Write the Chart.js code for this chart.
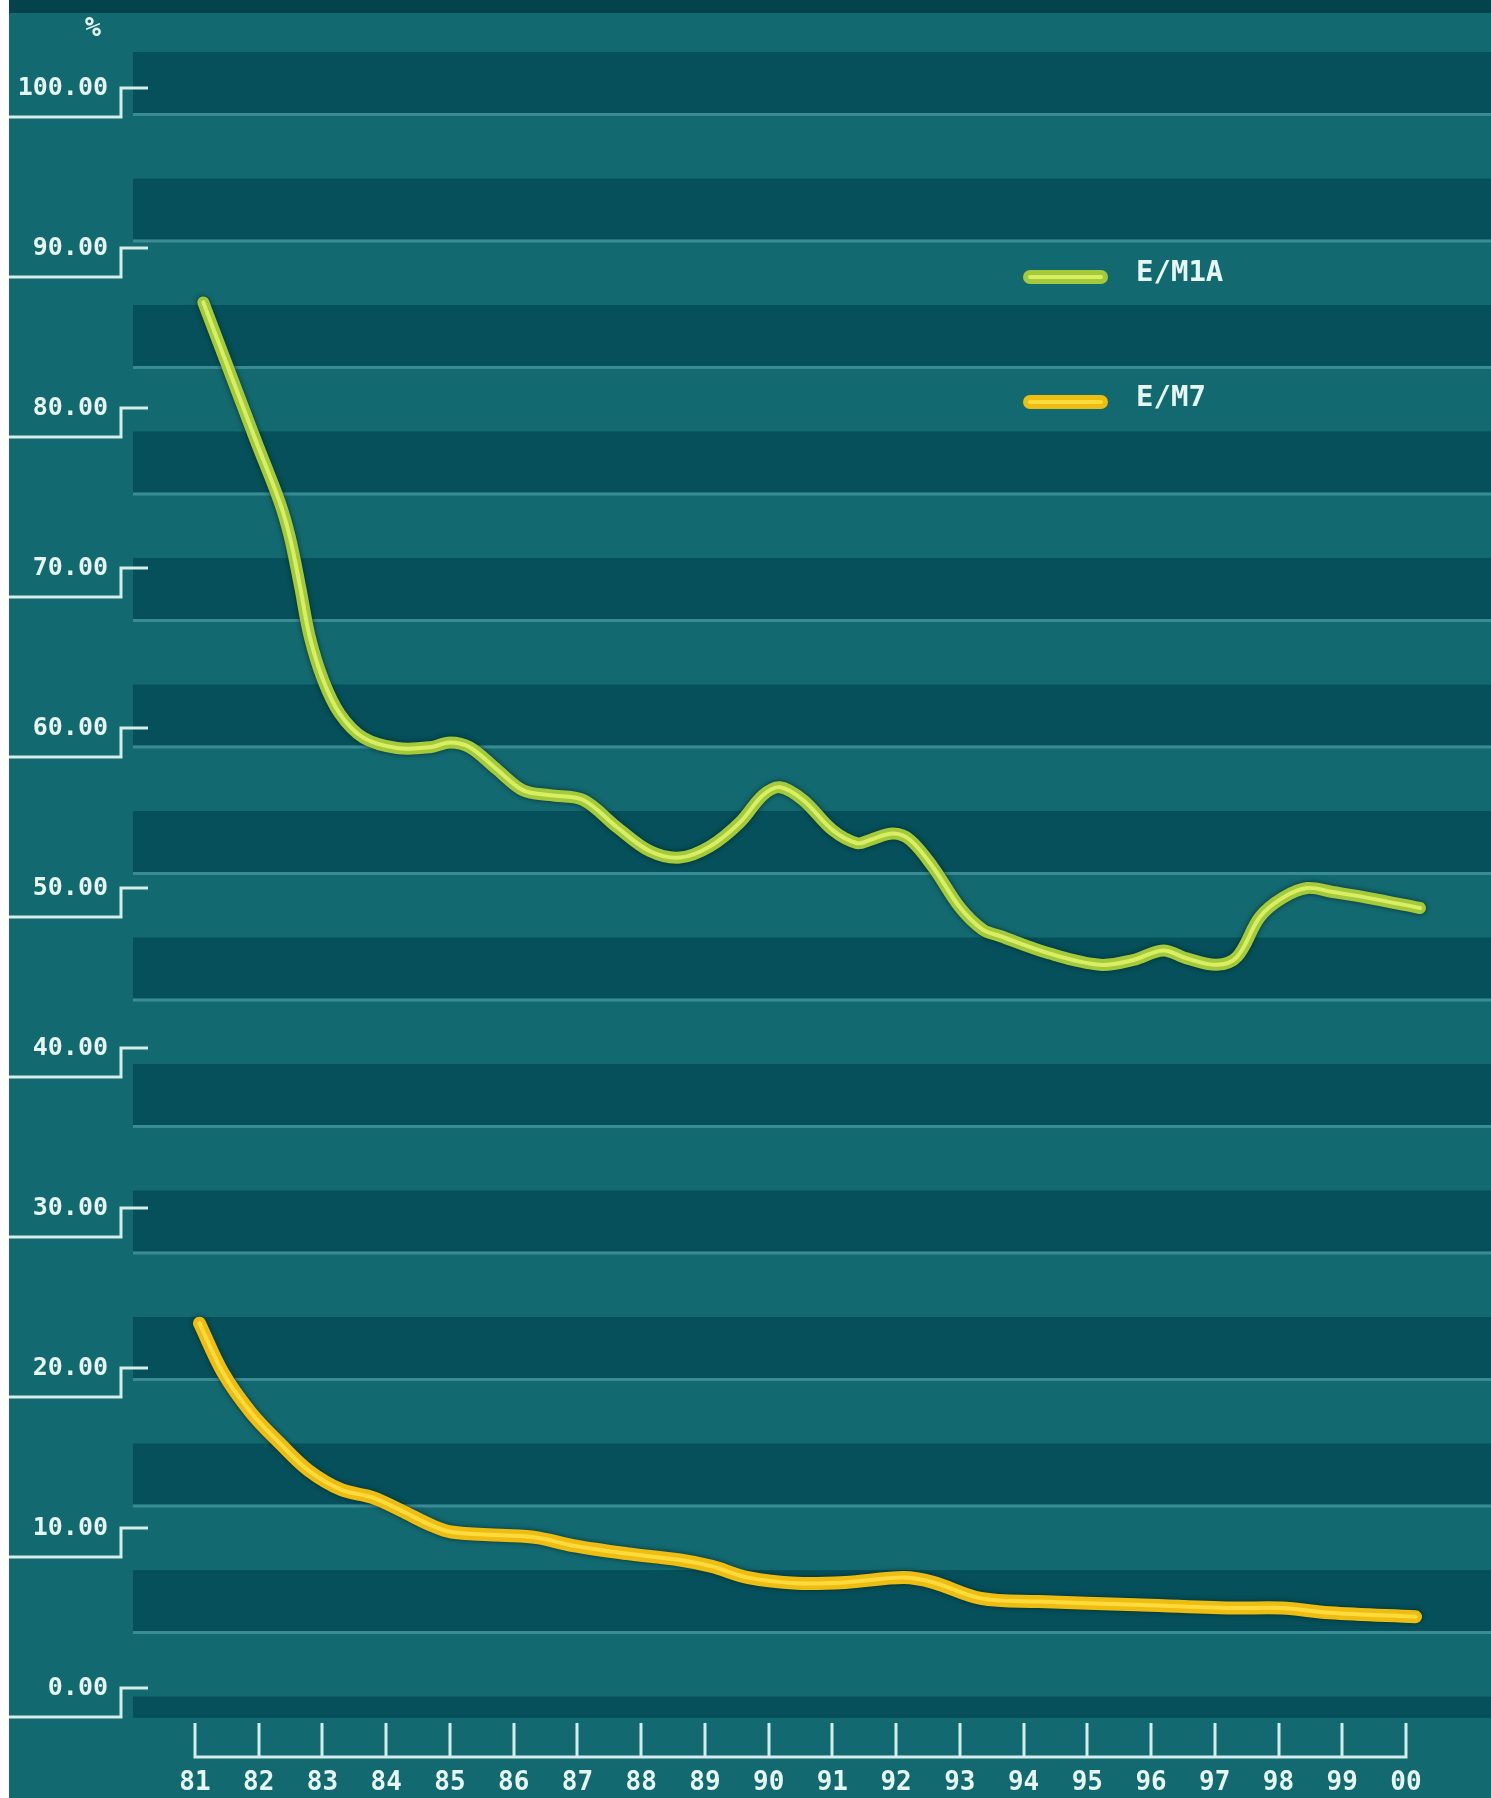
<!DOCTYPE html>
<html>
<head>
<meta charset="utf-8">
<title>E/M1A - E/M7</title>
<script src="https://cdn.jsdelivr.net/npm/chart.js@4.4.1/dist/chart.umd.min.js"></script>
<style>
    html, body { margin: 0; padding: 0; background: #ffffff; }
    canvas { display: block; }
</style>
</head>
<body>
<canvas id="chart" width="1491" height="1798"></canvas>
<script>
/* ── Data ── */
const seriesNames = ['E/M1A', 'E/M7'];

const em1aYears = [1981.13, 1981.55, 1981.95, 1982.33, 1982.49, 1982.65, 1982.80, 1983.01, 1983.27,
                   1983.64, 1984.17, 1984.69, 1985.00, 1985.31, 1985.74, 1986.15, 1986.57, 1987.09, 1987.62,
                   1988.14, 1988.61, 1989.08, 1989.55, 1989.91, 1990.18, 1990.54, 1991.01, 1991.39, 1991.59,
                   1991.95, 1992.22, 1992.58, 1993.00, 1993.36, 1993.63, 1994.41, 1995.20, 1995.72, 1996.19,
                   1996.56, 1997.03, 1997.35, 1997.71, 1998.07, 1998.45, 1998.85, 1999.38, 2000.22];
const em1aValues = [86.6, 82.2, 78.0, 74.1, 71.9, 68.8, 65.7, 63.0, 60.9,
                    59.4, 58.75, 58.8, 59.1, 58.8, 57.4, 56.1, 55.8, 55.5, 53.8,
                    52.3, 51.9, 52.6, 54.1, 55.8, 56.3, 55.5, 53.6, 52.8, 53.0,
                    53.4, 53.0, 51.3, 48.8, 47.4, 47.0, 45.9, 45.2, 45.5, 46.1,
                    45.6, 45.2, 45.7, 48.2, 49.4, 50.0, 49.75, 49.4, 48.75];

const em7Years = [1981.07, 1981.44, 1981.88, 1982.33, 1982.78, 1983.29, 1983.79, 1984.23, 1984.69, 1985.02,
                  1985.80, 1986.36, 1986.93, 1987.77, 1988.61, 1989.11, 1989.68, 1990.44, 1991.20, 1992.12,
                  1992.58, 1993.33, 1994.24, 1995.76, 1997.28, 1998.05, 1998.80, 2000.15];
const em7Values = [22.8, 19.7, 17.2, 15.3, 13.6, 12.4, 11.9, 11.1, 10.2, 9.75,
                   9.55, 9.4, 8.9, 8.4, 8.0, 7.6, 6.9, 6.55, 6.6, 6.9,
                   6.6, 5.6, 5.4, 5.2, 5.0, 5.0, 4.7, 4.45];

const yearTicks  = [1981, 1982, 1983, 1984, 1985, 1986, 1987, 1988, 1989, 1990,
                    1991, 1992, 1993, 1994, 1995, 1996, 1997, 1998, 1999, 2000];
const yearLabels = ['81', '82', '83', '84', '85', '86', '87', '88', '89', '90',
                    '91', '92', '93', '94', '95', '96', '97', '98', '99', '00'];
const pctTicks   = [0, 10, 20, 30, 40, 50, 60, 70, 80, 90, 100];
const unitLabel  = '%';

/* ── Style ── */
const MONO     = '"DejaVu Sans Mono", monospace';
const TEXT     = '#e6f6f2';
const RULE     = '#d3eee8';
const BG_LIGHT = '#136970';
const BG_DARK  = '#05505a';
const BG_TOP   = '#05434c';
const BG_LINE  = '#3a8b93';

function toPoints(xs, ys) {
    return xs.map((x, i) => ({ x: x, y: ys[i] }));
}

/* ── Background stripes + axis decorations ── */
const decor = {
    id: 'decor',

    beforeDraw(chart) {
        const { ctx, width, height, chartArea } = chart;
        ctx.save();
        ctx.fillStyle = '#ffffff';
        ctx.fillRect(0, 0, width, height);
        ctx.fillStyle = BG_LIGHT;
        ctx.fillRect(9, 0, width - 9, height);
        ctx.fillStyle = BG_TOP;
        ctx.fillRect(9, 0, width - 9, chartArea.top);

        // horizontal bands behind the plot
        const period = 126.5;
        for (let top = 52; top < chartArea.bottom; top += period) {
            const dh = Math.min(61, chartArea.bottom - top);
            ctx.fillStyle = BG_DARK;
            ctx.fillRect(chartArea.left, top, chartArea.right - chartArea.left, dh);
            if (top + 64 <= chartArea.bottom) {
                ctx.fillStyle = BG_LINE;
                ctx.fillRect(chartArea.left, top + 61, chartArea.right - chartArea.left, 3);
            }
        }
        ctx.restore();
    },

    afterDraw(chart) {
        const { ctx, scales } = chart;
        const ys = scales.y, xs = scales.x;
        ctx.save();
        ctx.strokeStyle = RULE;
        ctx.lineWidth = 3;
        ctx.lineJoin = 'miter';

        // step-shaped marks next to each % label
        pctTicks.forEach(v => {
            const y = Math.round(ys.getPixelForValue(v));
            ctx.beginPath();
            ctx.moveTo(148, y);
            ctx.lineTo(121, y);
            ctx.lineTo(121, y + 29);
            ctx.lineTo(9, y + 29);
            ctx.stroke();
        });

        // year ticks standing on a base line
        const y0 = xs.top + 5, y1 = xs.top + 39;
        ctx.beginPath();
        yearTicks.forEach(yr => {
            const x = Math.round(xs.getPixelForValue(yr));
            ctx.moveTo(x, y0);
            ctx.lineTo(x, y1);
        });
        ctx.moveTo(xs.getPixelForValue(yearTicks[0]) - 1.5, y1);
        ctx.lineTo(xs.getPixelForValue(yearTicks[yearTicks.length - 1]) + 1.5, y1);
        ctx.stroke();

        // unit label
        ctx.fillStyle = TEXT;
        ctx.font = 'bold 27px ' + MONO;
        ctx.textAlign = 'center';
        ctx.textBaseline = 'middle';
        ctx.fillText(unitLabel, 93, 29);

        // legend
        const rows = [273, 398];
        chart.data.datasets.forEach((ds, i) => {
            const y = rows[i];
            ctx.lineCap = 'round';
            ctx.strokeStyle = ds.borderColor;
            ctx.lineWidth = 14;
            ctx.beginPath(); ctx.moveTo(1030, y + 4); ctx.lineTo(1101, y + 4); ctx.stroke();
            ctx.strokeStyle = ds.glowColor;
            ctx.lineWidth = 4;
            ctx.beginPath(); ctx.moveTo(1030, y + 4); ctx.lineTo(1101, y + 4); ctx.stroke();
            ctx.fillStyle = TEXT;
            ctx.font = 'bold 29px ' + MONO;
            ctx.textAlign = 'left';
            ctx.fillText(ds.label, 1136, y);
        });
        ctx.restore();
    },

    beforeDatasetDraw(chart) {
        const ctx = chart.ctx;
        ctx.save();
        ctx.shadowColor = 'rgba(0, 35, 35, 0.8)';
        ctx.shadowBlur = 5;
    },

    afterDatasetDraw(chart, args) {
        const ctx = chart.ctx;
        ctx.restore();
        const ds = chart.data.datasets[args.index];
        const line = args.meta.dataset;
        const a = chart.chartArea;
        ctx.save();
        ctx.beginPath();
        ctx.rect(a.left, a.top, a.right - a.left, a.bottom - a.top);
        ctx.clip();
        ctx.beginPath();
        line.path(ctx);
        ctx.strokeStyle = ds.glowColor;
        ctx.lineWidth = 4;
        ctx.lineCap = 'round';
        ctx.lineJoin = 'round';
        ctx.stroke();
        ctx.restore();
    }
};

/* ── Chart ── */
const ctx = document.getElementById('chart').getContext('2d');

new Chart(ctx, {
    type: 'line',
    data: {
        datasets: [
            {
                label: seriesNames[0],
                data: toPoints(em1aYears, em1aValues),
                borderColor: '#a4c93a',
                glowColor: '#d9ef63',
                borderWidth: 12,
                borderCapStyle: 'round',
                borderJoinStyle: 'round',
                tension: 0.35,
                pointRadius: 0,
                fill: false
            },
            {
                label: seriesNames[1],
                data: toPoints(em7Years, em7Values),
                borderColor: '#eebd12',
                glowColor: '#ffda3c',
                borderWidth: 13,
                borderCapStyle: 'round',
                borderJoinStyle: 'round',
                tension: 0.35,
                pointRadius: 0,
                fill: false
            }
        ]
    },
    options: {
        responsive: false,
        animation: false,
        events: [],
        layout: { padding: { top: 13, right: 0, bottom: 0, left: 0 } },
        plugins: { legend: { display: false }, tooltip: { enabled: false } },
        scales: {
            x: {
                type: 'linear',
                min: 1980.027,
                max: 2001.334,
                afterBuildTicks: s => { s.ticks = yearTicks.map(v => ({ value: v })); },
                afterFit: s => { s.height = 80; s.paddingLeft = 0; s.paddingRight = 0; },
                grid: { display: false, drawTicks: false },
                border: { display: false },
                ticks: {
                    autoSkip: false,
                    maxRotation: 0,
                    padding: 50,
                    color: TEXT,
                    font: { family: MONO, size: 26, weight: 'bold' },
                    callback: (v, i) => yearLabels[i]
                }
            },
            y: {
                min: -1.875,
                max: 104.6875,
                afterBuildTicks: s => { s.ticks = pctTicks.map(v => ({ value: v })); },
                afterFit: s => { s.width = 133; s.paddingTop = 0; s.paddingBottom = 0; },
                grid: { display: false, drawTicks: false },
                border: { display: false },
                ticks: {
                    padding: 25,
                    color: TEXT,
                    font: { family: MONO, size: 25, weight: 'bold' },
                    callback: v => v.toFixed(2)
                }
            }
        }
    },
    plugins: [decor]
});
</script>
</body>
</html>
